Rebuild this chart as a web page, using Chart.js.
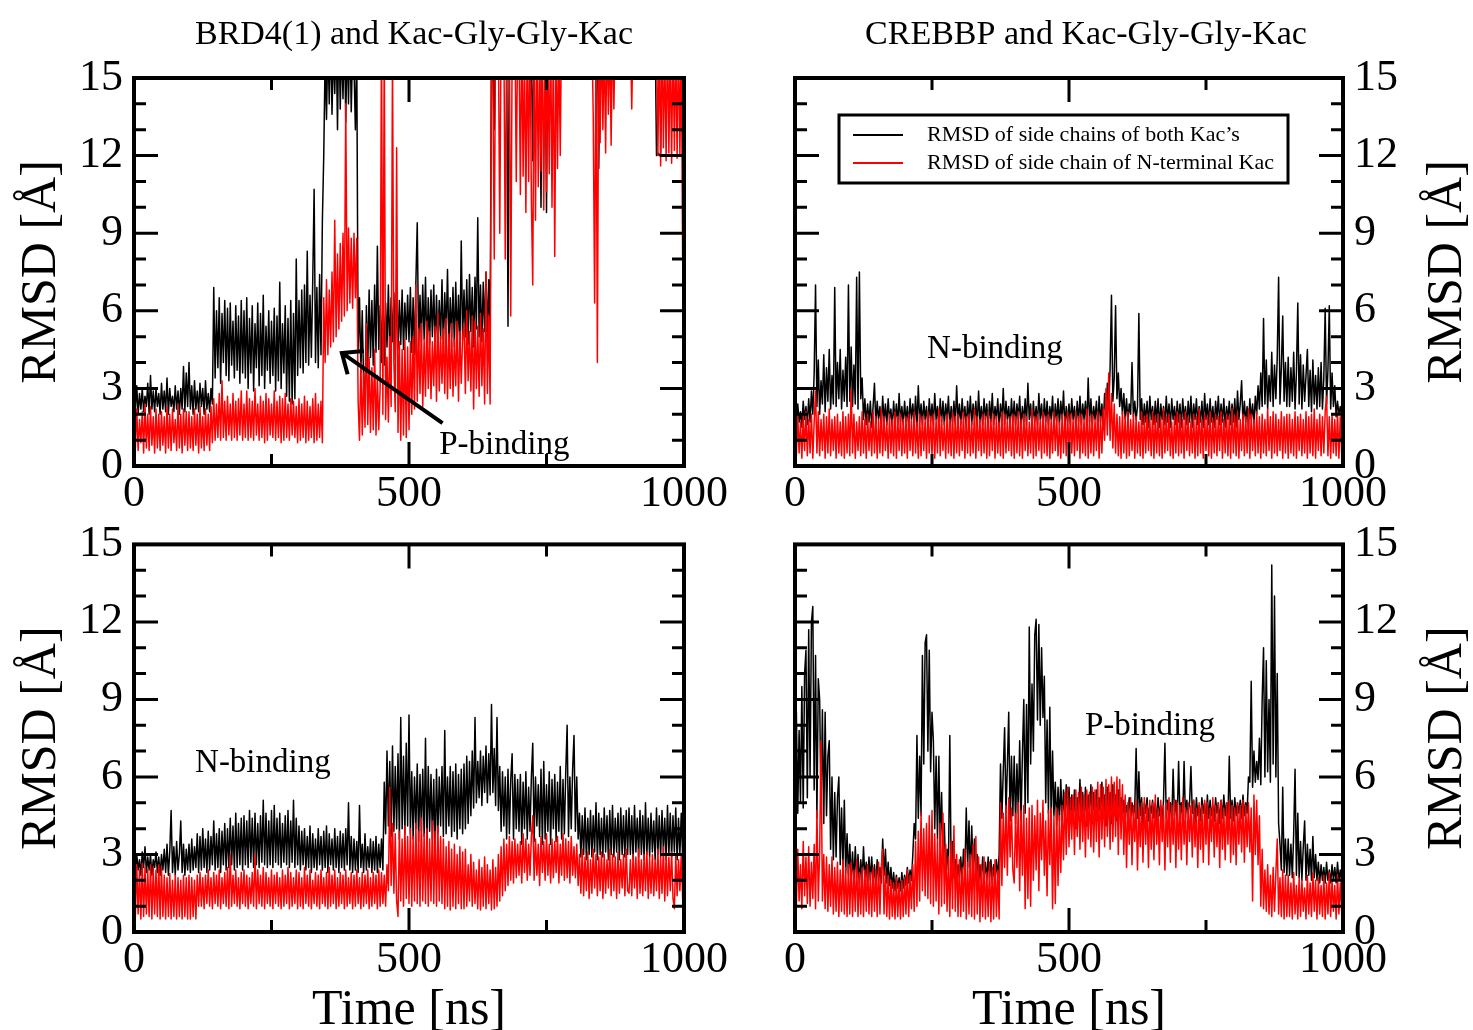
<!DOCTYPE html>
<html>
<head>
<meta charset="utf-8">
<script src="https://cdn.jsdelivr.net/npm/chart.js@4.4.1/dist/chart.umd.min.js"></script>
<style>
  html, body { margin: 0; padding: 0; background: #fff; width: 1473px; height: 1030px; overflow: hidden; }
  canvas { position: absolute; }
</style>
</head>
<body>
<canvas id="tl" width="828" height="515" style="left:0;top:0"></canvas>
<canvas id="tr" width="772" height="515" style="left:700px;top:0"></canvas>
<canvas id="bl" width="828" height="538" style="left:0;top:507px"></canvas>
<canvas id="br" width="772" height="538" style="left:700px;top:507px"></canvas>
<script>
// time axis: one sample every 2.5 ns, 0..1000 ns
const TIME_NS = Array.from({ length: 401 }, (_, i) => i * 2.5);

const X_MAJOR_TICKS = [0, 500, 1000];
const X_MINOR_TICKS = [250, 750];
const Y_MAJOR_TICKS = [0, 3, 6, 9, 12, 15];
const Y_MINOR_TICKS = [1, 2, 4, 5, 7, 8, 10, 11, 13, 14];

const LABEL_BOTH = "RMSD of side chains of both Kac\u2019s";
const LABEL_NTERM = "RMSD of side chain of N-terminal Kac";

// BRD4(1), P-binding (top left); one row = 100 ns
const brd4P_both = [
  2.9, 2.1, 3.1, 2.0, 2.8, 2.2, 3.0, 2.1, 2.7, 2.3, 3.2, 2.0, 3.5, 2.2, 2.9, 2.1, 3.0, 2.3, 2.8, 2.0,
  3.2, 2.2, 2.9, 2.1, 3.4, 2.0, 3.0, 2.3, 2.7, 2.1, 3.1, 2.2, 2.9, 2.0, 3.0, 2.2, 3.85, 2.1, 3.6, 2.3,
  4.0, 2.2, 3.1, 2.0, 3.3, 2.2, 2.9, 2.1, 3.2, 2.3, 3.0, 2.0, 3.3, 2.2, 2.8, 2.1, 3.0, 2.4, 6.9, 3.4,
  6.0, 3.8, 6.5, 3.2, 5.9, 4.0, 6.4, 3.5, 6.1, 3.3, 6.3, 3.9, 5.6, 3.4, 6.2, 3.7, 5.8, 3.2, 6.4, 3.6,
  6.0, 3.4, 6.5, 3.0, 5.7, 3.6, 6.2, 2.9, 5.5, 3.8, 6.3, 3.1, 5.9, 3.5, 6.6, 3.0, 5.4, 3.7, 6.0, 3.2,
  5.6, 3.5, 6.1, 2.9, 5.8, 3.3, 7.1, 3.0, 5.5, 3.6, 6.2, 2.7, 5.7, 2.5, 6.4, 2.4, 5.9, 2.6, 8.0, 3.5,
  6.4, 3.8, 6.8, 3.6, 7.0, 4.0, 8.3, 3.9, 6.6, 4.2, 7.2, 10.7, 4.0, 6.9, 3.8, 7.4, 4.3, 9.5, 12.0, 15.8,
  13.4, 16.5, 14.0, 17.0, 13.6, 16.2, 14.4, 16.8, 13.0, 17.2, 13.8, 16.4, 14.2, 17.0, 13.3, 16.6, 14.0, 17.1, 13.7, 16.3,
  15.5, 13.0, 16.0, 4.5, 6.5, 3.6, 6.0, 3.2, 2.6, 6.2, 3.8, 6.8, 4.2, 6.4, 3.9, 7.0, 4.4, 8.5, 4.5, 6.2,
  4.0, 6.9, 3.9, 6.3, 4.6, 7.0, 4.3, 6.5, 4.8, 6.7, 4.1, 7.2, 4.5, 6.4, 4.7, 6.8, 4.5, 6.3, 4.9, 6.6,
  4.8, 6.9, 4.4, 6.5, 4.3, 7.1, 9.4, 4.6, 6.6, 4.8, 7.0, 4.9, 7.3, 4.4, 6.5, 4.7, 6.8, 5.0, 7.0, 4.5,
  6.6, 4.7, 6.4, 4.9, 7.2, 4.5, 6.7, 5.1, 7.6, 4.6, 6.5, 5.0, 6.9, 4.6, 7.1, 4.8, 6.6, 4.5, 8.7, 4.9,
  6.8, 5.0, 7.2, 4.7, 7.4, 5.2, 6.9, 4.6, 7.3, 5.3, 9.6, 5.0, 7.0, 4.8, 7.1, 5.2, 7.5, 4.9, 7.2, 5.1,
  16.5, 15.6, 13.0, 16.8, 15.9, 17.0, 15.5, 16.8, 16.0, 17.2, 15.8, 16.6, 5.4, 17.0, 15.8, 17.5, 16.2, 16.9, 15.7, 17.3,
  16.0, 17.2, 15.6, 16.8, 15.9, 17.1, 16.3, 15.8, 16.9, 16.1, 11.8, 16.5, 15.4, 17.0, 16.2, 15.7, 10.0, 16.9, 16.0, 17.3,
  9.8, 17.0, 15.7, 16.8, 16.1, 17.3, 15.9, 16.6, 17.0, 16.2, 16.8, 15.9, 17.1, 16.4, 16.9, 15.8, 17.2, 16.3, 16.7, 17.0,
  16.8, 17.1, 16.0, 17.4, 16.3, 16.9, 15.8, 17.2, 16.4, 16.7, 17.0, 16.1, 16.9, 15.9, 17.3, 16.5, 16.8, 17.1, 11.5, 16.6,
  17.0, 16.1, 16.7, 17.3, 15.9, 16.8, 17.1, 16.2, 16.9, 17.4, 16.6, 17.0, 16.2, 17.3, 16.5, 16.9, 17.2, 16.0, 16.8, 17.1,
  16.6, 17.0, 16.2, 17.3, 16.5, 16.9, 17.2, 16.0, 16.8, 17.1, 16.4, 17.0, 15.8, 16.6, 17.2, 16.3, 16.9, 17.0, 16.4, 16.9,
  12.0, 12.1, 12.0, 12.1, 16.4, 17.0, 15.8, 16.6, 17.2, 16.3, 16.9, 17.0, 16.5, 17.2, 16.1, 16.8, 17.0, 16.4, 16.9, 17.1,
  16.5
];
const brd4P_nterm = [
  1.9, 0.7, 2.2, 0.6, 1.8, 0.9, 2.1, 0.5, 2.4, 0.7, 2.0, 0.6, 2.3, 0.8, 1.9, 0.5, 2.2, 0.7, 2.0, 0.6,
  2.1, 0.8, 1.9, 0.5, 2.3, 0.7, 2.0, 0.6, 2.2, 0.9, 1.8, 0.6, 2.4, 0.7, 2.0, 0.5, 2.2, 0.8, 2.1, 0.6,
  2.1, 0.7, 1.9, 0.6, 2.2, 0.8, 2.0, 0.5, 2.3, 0.7, 1.9, 0.6, 2.2, 0.8, 2.0, 0.6, 2.3, 0.9, 2.6, 1.0,
  2.4, 1.1, 2.8, 1.0, 3.3, 1.1, 2.5, 1.0, 2.7, 1.2, 2.4, 1.0, 2.8, 1.1, 2.5, 1.0, 2.6, 1.2, 2.9, 1.0,
  2.4, 1.1, 2.9, 1.0, 2.6, 1.1, 2.5, 1.0, 3.0, 1.2, 2.4, 1.0, 2.7, 1.1, 2.5, 0.9, 2.8, 1.0, 2.6, 1.2,
  2.4, 1.1, 2.9, 1.0, 2.5, 1.1, 2.7, 0.9, 2.6, 1.0, 2.8, 1.1, 2.4, 1.0, 2.6, 1.2, 2.5, 1.1, 2.3, 0.9,
  2.6, 1.0, 2.4, 1.1, 2.7, 0.9, 2.5, 1.0, 2.3, 1.1, 2.6, 0.9, 2.8, 1.0, 2.4, 1.1, 2.5, 0.9, 6.5, 4.0,
  7.2, 4.3, 6.8, 4.6, 7.5, 4.8, 9.5, 5.0, 8.2, 5.3, 8.6, 5.6, 9.0, 5.8, 14.0, 6.0, 9.2, 6.3, 8.8, 6.1,
  9.0, 6.5, 8.8, 2.5, 1.0, 4.0, 1.2, 3.6, 1.5, 5.5, 1.6, 4.2, 1.3, 3.8, 1.4, 4.5, 1.2, 3.5, 1.4, 3.0,
  17.0, 2.0, 16.5, 1.8, 4.2, 1.7, 5.0, 2.3, 16.0, 4.0, 2.1, 12.3, 1.3, 4.8, 1.0, 4.5, 1.2, 4.9, 1.1, 4.6,
  1.4, 4.8, 2.0, 5.0, 2.2, 7.0, 2.5, 5.3, 2.8, 5.5, 2.3, 4.9, 2.7, 5.6, 3.0, 5.2, 2.6, 4.8, 3.1, 5.4,
  2.5, 5.9, 2.9, 5.0, 3.2, 5.3, 2.8, 5.7, 2.6, 5.1, 3.0, 5.5, 2.7, 4.9, 3.1, 5.6, 2.5, 5.2, 3.2, 5.0,
  5.5, 2.8, 6.0, 3.3, 5.2, 2.9, 5.8, 2.2, 5.6, 3.0, 5.4, 2.7, 5.9, 3.1, 5.3, 2.4, 7.5, 2.8, 5.8, 2.4,
  16.0, 15.0, 8.0, 17.0, 15.8, 16.5, 9.0, 17.0, 16.2, 16.5, 8.0, 17.0, 15.6, 16.8, 5.8, 16.0, 15.5, 17.2, 11.0, 16.4,
  16.5, 10.5, 17.0, 11.2, 16.2, 9.8, 16.8, 11.0, 17.2, 10.3, 7.0, 16.8, 9.5, 17.2, 10.8, 16.0, 11.4, 16.9, 9.9, 17.0,
  10.6, 16.4, 11.3, 17.1, 10.0, 16.6, 8.1, 17.0, 11.5, 16.5, 12.0, 17.5, 16.8, 17.3, 16.5, 17.0, 16.4, 17.2, 16.7, 17.4,
  17.0, 16.4, 17.2, 16.7, 17.4, 16.5, 17.1, 16.6, 17.3, 16.9, 17.0, 16.5, 17.2, 16.8, 13.5, 6.3, 16.9, 4.0, 16.8, 12.5,
  17.0, 13.0, 16.6, 12.1, 17.2, 13.6, 16.8, 12.4, 17.1, 13.8, 16.9, 17.4, 16.6, 17.1, 16.8, 17.3, 16.5, 17.0, 16.7, 17.2,
  16.8, 17.0, 13.8, 17.0, 16.5, 17.3, 16.7, 17.2, 16.4, 17.0, 16.6, 17.3, 16.8, 17.1, 16.5, 17.2, 16.9, 17.0, 16.6, 17.3,
  16.8, 12.0, 16.5, 11.6, 16.8, 12.3, 16.2, 11.8, 16.9, 12.1, 16.4, 11.7, 16.7, 12.2, 16.3, 11.9, 16.8, 12.0, 16.5, 8.1,
  16.0
];

// CREBBP, N-binding (top right)
const crebN_both = [
  2.2, 1.6, 2.4, 1.7, 2.1, 1.5, 2.5, 1.8, 2.3, 1.6, 2.6, 1.7, 2.9, 2.0, 3.6, 7.0, 2.3, 4.1, 2.0, 3.3,
  2.4, 4.3, 2.1, 3.8, 2.5, 4.5, 2.2, 3.5, 2.4, 6.9, 2.3, 4.0, 2.6, 4.5, 2.2, 3.7, 2.5, 4.2, 2.3, 7.0,
  2.5, 4.6, 2.3, 3.9, 2.4, 7.3, 2.2, 7.5, 2.6, 3.4, 1.8, 2.6, 1.6, 2.4, 1.7, 2.5, 1.5, 2.3, 3.2, 1.6,
  2.5, 1.8, 2.3, 1.5, 2.7, 1.7, 2.4, 1.6, 2.6, 1.8, 2.2, 1.5, 2.5, 1.7, 2.4, 1.6, 2.8, 1.7, 2.3, 1.6,
  2.5, 1.7, 2.3, 1.5, 2.6, 1.8, 2.4, 1.6, 2.7, 1.5, 3.1, 1.7, 2.4, 1.6, 2.5, 1.8, 2.3, 1.5, 2.6, 1.7,
  2.4, 1.6, 2.8, 1.8, 2.3, 1.5, 2.6, 1.7, 2.5, 1.6, 2.4, 1.8, 2.7, 1.5, 2.3, 1.7, 2.5, 1.6, 3.1, 1.7,
  2.4, 1.6, 2.6, 1.8, 2.3, 1.5, 2.5, 1.7, 2.7, 1.6, 2.4, 1.8, 2.5, 1.5, 2.9, 1.7, 2.3, 1.6, 2.6, 1.8,
  2.4, 1.5, 2.5, 1.7, 2.8, 1.6, 2.3, 1.8, 2.6, 1.5, 2.4, 1.7, 3.0, 1.6, 2.5, 1.8, 2.3, 1.5, 2.6, 1.7,
  2.5, 1.6, 2.4, 1.8, 2.7, 1.5, 2.3, 1.7, 2.6, 1.6, 3.2, 1.8, 2.4, 1.5, 2.5, 1.7, 2.3, 1.6, 2.8, 1.8,
  2.4, 1.5, 2.6, 1.7, 2.5, 1.6, 2.3, 1.8, 2.7, 1.5, 2.4, 1.7, 2.6, 1.6, 2.5, 1.8, 2.9, 1.5, 2.3, 1.7,
  2.4, 1.6, 2.6, 1.8, 2.3, 1.5, 2.5, 1.7, 2.7, 1.6, 2.4, 1.8, 2.5, 1.5, 3.4, 1.7, 2.6, 1.6, 2.3, 1.8,
  2.5, 1.5, 2.7, 1.7, 2.4, 1.6, 2.8, 2.0, 3.2, 2.2, 3.8, 6.6, 2.5, 3.4, 6.2, 2.6, 3.6, 2.3, 3.0, 2.0,
  2.8, 1.8, 2.6, 1.7, 2.4, 2.0, 4.0, 1.9, 2.5, 1.8, 2.3, 5.9, 1.8, 2.6, 1.6, 2.4, 1.7, 2.5, 1.5, 2.7,
  1.8, 2.3, 1.6, 2.5, 1.7, 2.6, 1.5, 2.4, 1.8, 2.3, 1.6, 2.7, 1.7, 2.4, 1.5, 2.6, 1.8, 2.3, 1.6, 2.5,
  1.7, 2.4, 1.5, 2.6, 1.8, 2.3, 1.6, 2.5, 1.7, 2.7, 1.5, 2.4, 1.8, 2.6, 1.6, 2.3, 1.7, 2.5, 1.5, 2.8,
  1.8, 2.4, 1.6, 2.6, 1.7, 2.3, 1.5, 2.5, 1.8, 2.7, 1.6, 2.4, 1.7, 2.6, 1.5, 2.3, 1.8, 2.5, 1.6, 2.4,
  1.7, 2.6, 1.5, 2.9, 1.8, 2.4, 3.3, 1.6, 2.5, 1.7, 2.3, 1.5, 2.6, 1.8, 2.4, 1.6, 2.7, 2.0, 3.1, 2.2,
  3.6, 2.3, 5.7, 2.4, 4.1, 2.2, 3.5, 2.5, 4.4, 2.3, 3.9, 2.6, 4.2, 7.3, 2.4, 3.8, 5.8, 2.5, 4.0, 2.3,
  4.2, 2.3, 3.8, 2.5, 4.4, 2.2, 3.6, 6.3, 2.4, 4.3, 2.2, 3.9, 2.5, 3.5, 4.5, 2.3, 3.7, 2.1, 4.1, 2.4,
  3.5, 2.2, 3.8, 2.3, 4.0, 2.2, 3.4, 6.1, 2.4, 3.7, 6.2, 2.2, 3.6, 2.3, 3.1, 1.9, 2.5, 2.0, 2.3, 1.9,
  1.8
];
const crebN_nterm = [
  1.8, 0.4, 2.0, 0.5, 1.7, 0.3, 1.9, 0.6, 2.1, 0.4, 1.8, 0.5, 2.0, 0.3, 1.7, 2.9, 0.5, 2.1, 0.4, 1.8,
  0.6, 2.0, 0.3, 1.9, 0.5, 2.2, 0.4, 1.8, 0.6, 1.9, 0.3, 2.0, 0.5, 1.7, 0.4, 2.1, 0.3, 1.9, 0.5, 2.0,
  0.4, 3.0, 0.5, 2.0, 0.3, 1.7, 0.6, 1.9, 0.4, 2.1, 0.5, 1.8, 0.3, 2.0, 0.6, 1.7, 0.4, 2.1, 0.5, 1.9,
  0.3, 1.8, 0.5, 2.2, 0.4, 1.9, 0.6, 1.7, 0.3, 2.0, 0.5, 1.8, 0.4, 2.1, 0.3, 1.9, 0.6, 2.0, 0.4, 1.8,
  0.5, 1.9, 0.3, 2.0, 0.6, 1.8, 0.4, 2.1, 0.5, 1.7, 0.3, 2.0, 0.4, 1.9, 0.6, 1.8, 0.3, 2.1, 0.5, 1.9,
  0.4, 2.0, 0.3, 1.8, 0.5, 2.2, 0.4, 1.9, 0.6, 1.7, 0.3, 2.0, 0.5, 1.8, 0.4, 2.1, 0.3, 1.9, 0.5, 2.0,
  0.4, 1.8, 0.6, 2.1, 0.3, 1.9, 0.5, 2.0, 0.4, 1.7, 0.5, 2.2, 0.3, 1.9, 0.6, 1.8, 0.4, 2.0, 0.5, 1.9,
  0.3, 2.1, 0.4, 1.8, 0.6, 2.0, 0.3, 1.9, 0.5, 1.7, 0.4, 2.1, 0.3, 2.0, 0.5, 1.8, 0.6, 1.9, 0.4, 2.0,
  0.3, 1.9, 0.5, 2.1, 0.4, 1.8, 0.3, 2.0, 0.6, 1.9, 0.4, 1.7, 0.5, 2.2, 0.3, 1.9, 0.4, 2.0, 0.6, 1.8,
  0.3, 2.1, 0.5, 1.9, 0.4, 2.0, 0.3, 1.8, 0.5, 2.1, 0.6, 1.9, 0.4, 1.7, 0.3, 2.0, 0.5, 1.9, 0.4, 2.1,
  0.3, 2.0, 0.5, 1.8, 0.4, 2.1, 0.6, 1.9, 0.3, 2.0, 0.5, 1.8, 0.4, 2.2, 0.3, 1.9, 0.5, 2.0, 0.4, 1.8,
  0.6, 2.1, 0.3, 1.9, 0.5, 2.2, 1.0, 3.0, 1.2, 3.6, 1.0, 2.8, 0.7, 2.4, 0.5, 2.0, 0.4, 1.9, 0.3, 2.1,
  0.5, 1.9, 0.3, 2.1, 0.4, 1.8, 0.6, 2.0, 0.3, 1.9, 0.5, 1.7, 0.4, 2.1, 0.3, 1.9, 0.5, 2.0, 0.6, 1.8,
  0.4, 2.1, 0.3, 1.9, 0.5, 2.0, 0.4, 1.8, 0.3, 2.2, 0.5, 1.9, 0.6, 2.0, 0.4, 1.7, 0.3, 1.9, 0.5, 2.1,
  0.4, 2.0, 0.5, 1.8, 0.3, 2.1, 0.6, 1.9, 0.4, 1.7, 0.5, 2.0, 0.3, 1.9, 0.4, 2.2, 0.5, 1.8, 0.3, 2.0,
  0.6, 1.9, 0.4, 2.1, 0.3, 1.8, 0.5, 2.0, 0.4, 1.9, 0.6, 2.1, 0.3, 1.8, 0.5, 2.0, 0.4, 1.9, 0.3, 2.2,
  0.5, 1.9, 0.4, 2.1, 0.3, 1.8, 0.6, 2.0, 0.4, 1.9, 0.5, 2.2, 0.3, 2.0, 0.6, 1.8, 0.4, 2.1, 0.5, 1.9,
  0.3, 2.0, 0.5, 1.8, 0.4, 2.2, 0.6, 1.9, 0.3, 2.1, 0.5, 2.0, 0.4, 1.8, 0.6, 2.1, 0.3, 1.9, 0.5, 2.0,
  0.3, 2.0, 0.5, 1.8, 0.4, 2.1, 0.3, 1.9, 0.6, 2.0, 0.4, 1.8, 0.5, 2.1, 0.3, 1.9, 0.5, 2.0, 0.4, 2.2,
  0.3, 1.8, 0.6, 2.0, 0.4, 1.9, 0.5, 2.1, 2.7, 0.4, 1.9, 0.3, 2.0, 0.5, 1.8, 0.4, 2.1, 0.3, 1.9, 0.5,
  1.8
];

// BRD4(1), N-binding (bottom left)
const brd4N_both = [
  2.9, 2.3, 3.0, 2.4, 2.8, 2.2, 3.1, 2.5, 3.3, 2.3, 2.9, 2.4, 3.0, 2.2, 2.8, 2.5, 3.1, 2.3, 2.9, 2.2,
  3.0, 2.4, 3.2, 2.3, 3.4, 2.2, 3.1, 4.7, 2.3, 3.3, 2.2, 3.5, 2.4, 3.0, 4.3, 2.3, 3.4, 2.2, 3.2, 2.4,
  3.4, 2.3, 3.6, 2.4, 3.3, 2.5, 3.8, 2.3, 3.7, 2.4, 4.0, 2.5, 3.6, 2.3, 3.9, 2.4, 3.7, 2.6, 4.3, 2.4,
  3.8, 2.5, 4.0, 2.3, 3.9, 2.6, 4.2, 2.4, 4.0, 2.5, 4.4, 2.6, 4.1, 2.4, 4.6, 2.5, 4.2, 2.6, 4.4, 2.4,
  4.5, 2.6, 4.3, 2.5, 4.7, 2.7, 4.4, 2.5, 4.6, 2.6, 4.2, 2.5, 4.5, 2.7, 5.1, 2.6, 4.6, 2.5, 4.3, 2.6,
  4.7, 2.5, 4.9, 2.7, 4.4, 2.6, 4.6, 2.5, 4.2, 2.7, 4.5, 2.6, 4.7, 2.5, 4.3, 2.7, 5.1, 2.5, 4.4, 2.6,
  4.1, 2.4, 3.9, 2.6, 4.0, 2.4, 3.7, 2.5, 4.1, 2.3, 3.8, 2.5, 3.6, 2.4, 4.0, 2.6, 3.7, 2.4, 3.9, 2.5,
  4.1, 2.3, 3.8, 2.6, 3.6, 2.4, 4.0, 2.5, 3.7, 2.3, 3.9, 2.5, 3.8, 2.4, 4.0, 2.6, 5.0, 2.4, 3.7, 2.3,
  3.6, 2.4, 3.5, 2.3, 4.9, 2.5, 3.4, 2.3, 3.8, 2.4, 3.3, 2.5, 3.6, 2.3, 3.5, 2.4, 3.7, 2.3, 3.4, 2.5,
  3.6, 2.4, 5.8, 3.8, 7.0, 4.1, 6.6, 3.7, 7.2, 3.9, 6.4, 4.0, 6.9, 3.6, 8.3, 4.0, 6.8, 3.8, 7.3, 4.1,
  8.4, 3.8, 6.2, 3.6, 6.0, 4.0, 6.5, 3.5, 6.1, 3.9, 6.3, 3.7, 7.5, 3.3, 6.4, 3.9, 6.1, 3.6, 5.9, 3.0,
  6.3, 3.8, 6.0, 4.1, 6.4, 3.7, 7.8, 3.8, 6.0, 4.1, 6.4, 3.7, 6.2, 3.9, 6.5, 3.6, 6.1, 4.0, 6.3, 3.8,
  6.5, 4.0, 6.8, 4.2, 6.6, 4.5, 7.0, 4.8, 8.3, 5.0, 6.6, 5.2, 7.0, 4.9, 6.8, 5.4, 7.2, 5.0, 6.9, 5.3,
  8.8, 5.4, 7.1, 4.9, 8.3, 4.7, 6.4, 3.9, 6.2, 4.1, 6.0, 3.6, 6.3, 3.8, 5.9, 6.9, 3.6, 6.1, 4.0, 5.9,
  3.9, 6.1, 3.4, 5.8, 4.0, 6.2, 3.6, 5.6, 3.9, 6.0, 7.3, 3.5, 6.0, 4.1, 5.7, 3.7, 6.3, 3.4, 6.6, 3.6,
  5.7, 3.9, 6.2, 3.4, 5.9, 4.0, 6.1, 3.5, 5.8, 3.9, 6.4, 3.6, 5.9, 3.8, 6.2, 8.0, 3.7, 6.0, 4.0, 6.3,
  7.6, 3.9, 6.0, 3.6, 4.6, 2.9, 4.5, 3.0, 4.8, 2.8, 4.4, 3.0, 4.7, 2.9, 4.5, 3.1, 5.0, 2.8, 4.6, 3.0,
  4.4, 2.9, 4.8, 3.1, 4.5, 2.8, 4.7, 3.0, 4.9, 2.9, 4.4, 3.1, 4.6, 2.8, 4.8, 3.0, 4.5, 2.9, 4.7, 3.0,
  4.8, 3.0, 4.5, 2.8, 4.9, 3.1, 4.4, 2.9, 4.7, 3.0, 4.5, 2.8, 5.0, 3.0, 4.4, 2.9, 4.6, 3.1, 4.3, 2.8,
  4.8, 3.0, 4.5, 2.9, 4.7, 3.1, 4.4, 2.8, 4.9, 3.0, 4.6, 2.9, 4.5, 3.1, 4.8, 2.8, 4.4, 3.0, 4.6, 2.9,
  3.4
];
const brd4N_nterm = [
  2.5, 0.6, 2.6, 0.7, 2.4, 0.5, 2.65, 0.6, 2.5, 0.7, 2.4, 0.6, 2.6, 0.5, 2.5, 0.7, 2.4, 0.6, 2.6, 0.5,
  2.5, 0.6, 2.2, 0.5, 2.1, 0.6, 2.26, 0.5, 2.0, 0.6, 2.2, 0.5, 2.1, 0.6, 2.0, 0.5, 2.2, 0.6, 2.1, 0.5,
  2.2, 0.5, 2.1, 0.6, 2.0, 0.5, 2.2, 1.0, 2.3, 1.0, 2.1, 0.9, 2.2, 1.1, 2.4, 1.0, 2.1, 0.9, 2.3, 1.1,
  2.2, 1.0, 2.4, 0.9, 2.1, 1.1, 2.3, 1.0, 2.5, 0.9, 3.0, 1.0, 2.2, 1.1, 2.4, 1.0, 2.1, 0.9, 2.3, 1.1,
  2.4, 1.0, 2.2, 0.9, 2.1, 1.1, 2.3, 1.0, 3.0, 0.9, 2.4, 1.1, 2.2, 1.0, 2.5, 0.9, 2.3, 1.1, 2.1, 1.0,
  2.4, 0.9, 2.2, 1.1, 2.3, 1.0, 2.1, 0.9, 2.4, 1.0, 2.2, 1.1, 2.5, 0.9, 2.3, 1.0, 2.1, 1.1, 2.4, 0.9,
  2.3, 1.0, 2.1, 0.9, 2.5, 1.1, 2.2, 1.0, 2.4, 0.9, 2.0, 1.1, 2.3, 1.0, 2.2, 0.9, 2.4, 1.1, 2.1, 1.0,
  2.3, 0.9, 2.5, 1.0, 2.2, 1.1, 2.4, 0.9, 2.1, 1.0, 2.3, 1.1, 2.2, 0.9, 2.4, 1.0, 2.1, 1.1, 2.3, 0.9,
  2.2, 1.0, 2.4, 1.1, 2.1, 0.9, 2.3, 1.0, 2.2, 1.1, 2.4, 0.9, 2.1, 1.0, 2.3, 1.1, 2.2, 0.9, 2.4, 1.0,
  2.3, 1.1, 2.2, 1.0, 2.6, 1.6, 5.6, 1.8, 4.2, 1.5, 3.8, 1.2, 0.6, 3.9, 1.2, 3.6, 1.0, 4.1, 1.3, 3.7,
  1.1, 4.0, 1.0, 3.7, 1.2, 4.2, 1.1, 3.9, 1.0, 4.4, 1.2, 3.8, 1.1, 4.0, 1.0, 3.6, 1.2, 4.3, 1.1, 3.9,
  1.0, 4.1, 1.2, 3.7, 1.1, 3.6, 0.9, 3.3, 1.0, 3.5, 0.85, 3.2, 1.0, 3.4, 0.9, 3.0, 1.1, 3.3, 0.9, 3.1,
  0.9, 3.2, 1.0, 2.6, 1.2, 3.0, 1.0, 2.7, 1.1, 2.4, 0.9, 2.8, 0.85, 2.5, 1.0, 2.9, 0.9, 2.6, 1.1, 2.4,
  0.85, 2.8, 0.9, 2.5, 1.0, 3.0, 1.2, 3.3, 1.4, 3.6, 1.6, 3.4, 1.8, 3.7, 2.0, 3.5, 1.9, 3.6, 2.1, 3.4,
  2.2, 3.5, 1.9, 3.8, 2.3, 3.6, 2.0, 3.4, 2.2, 3.7, 4.5, 2.0, 3.6, 2.2, 3.4, 1.8, 3.7, 2.3, 3.5, 2.0,
  3.8, 2.2, 3.4, 1.9, 3.6, 2.1, 3.5, 2.3, 3.7, 1.9, 3.4, 2.2, 3.8, 2.0, 3.6, 2.1, 3.5, 1.9, 3.7, 2.2,
  3.3, 2.1, 3.4, 1.8, 3.0, 1.5, 3.2, 1.4, 2.9, 1.6, 3.1, 1.3, 2.8, 1.5, 3.2, 1.7, 3.0, 1.4, 2.9, 1.6,
  3.1, 1.3, 3.0, 1.5, 2.8, 1.7, 3.2, 1.4, 3.0, 1.6, 2.9, 1.3, 3.1, 1.5, 2.8, 1.7, 3.0, 1.4, 3.2, 1.6,
  1.5, 2.8, 1.4, 3.0, 1.7, 2.9, 1.3, 3.2, 1.5, 2.8, 1.4, 3.0, 1.6, 3.1, 1.3, 2.9, 1.5, 3.0, 1.4, 2.8,
  1.6, 3.2, 1.3, 2.9, 1.5, 3.3, 1.2, 3.0, 1.4, 2.9, 1.6, 3.1, 1.3, 0.9, 3.0, 1.4, 2.8, 1.6, 3.0, 1.3,
  1.5
];

// CREBBP, P-binding (bottom right)
const crebP_both = [
  6.0, 8.5, 4.6, 7.8, 5.0, 9.5, 4.8, 10.0, 10.9, 5.2, 11.7, 6.0, 12.0, 12.6, 5.5, 10.7, 4.4, 9.8, 9.0, 4.8,
  8.6, 4.2, 8.5, 4.5, 6.8, 7.4, 3.2, 6.0, 2.8, 5.4, 2.9, 5.2, 6.0, 2.6, 4.8, 2.5, 5.1, 2.3, 3.8, 2.2,
  3.4, 2.0, 3.1, 1.9, 3.3, 2.1, 3.0, 1.8, 2.8, 2.0, 3.3, 2.1, 2.7, 1.8, 2.9, 2.0, 2.9, 1.9, 2.6, 1.8,
  2.8, 2.0, 2.5, 1.9, 3.6, 2.2, 3.2, 1.9, 2.7, 1.8, 2.5, 1.7, 2.3, 1.6, 2.2, 1.7, 2.1, 1.6, 2.3, 1.7,
  2.2, 1.8, 2.5, 1.9, 2.4, 2.0, 3.0, 4.2, 3.6, 7.6, 4.4, 6.8, 4.5, 10.7, 6.5, 11.2, 11.5, 7.0, 10.9, 6.2,
  8.5, 7.4, 4.0, 6.8, 3.6, 6.8, 3.3, 5.4, 3.0, 4.2, 2.2, 3.2, 2.4, 7.6, 2.3, 3.5, 2.1, 2.8, 2.0, 2.6,
  2.1, 2.9, 2.0, 3.2, 2.3, 4.8, 2.5, 4.3, 2.2, 4.1, 2.4, 3.6, 2.2, 3.0, 1.9, 2.6, 2.0, 2.9, 2.1, 2.7,
  2.0, 2.9, 2.1, 2.8, 1.9, 2.6, 2.0, 2.8, 2.1, 3.0, 6.5, 4.4, 6.2, 7.9, 4.6, 6.4, 8.5, 4.3, 6.8, 4.5,
  6.8, 4.2, 6.5, 4.6, 7.4, 4.3, 6.9, 9.0, 4.6, 8.8, 5.0, 11.8, 6.5, 9.6, 7.0, 11.5, 12.1, 8.2, 11.9, 8.0,
  11.0, 8.3, 9.9, 5.0, 8.2, 4.6, 8.7, 4.3, 7.0, 4.5, 5.8, 4.1, 5.6, 4.3, 5.9, 4.2, 5.5, 4.4, 5.7, 4.5,
  5.6, 4.2, 5.3, 4.5, 5.5, 4.0, 5.2, 4.6, 5.9, 4.3, 5.4, 4.4, 5.6, 4.1, 5.3, 4.7, 5.7, 4.2, 5.4, 4.5,
  5.5, 4.3, 5.2, 4.6, 5.8, 4.4, 5.3, 4.1, 5.6, 4.7, 5.4, 4.2, 5.7, 4.5, 5.3, 4.3, 5.5, 4.6, 5.2, 4.4,
  5.1, 4.3, 4.9, 4.6, 5.2, 4.4, 5.0, 4.5, 4.8, 7.1, 4.4, 6.2, 4.5, 5.2, 4.1, 5.0, 4.6, 5.2, 4.3, 4.9,
  4.6, 5.1, 4.4, 5.0, 4.2, 5.2, 4.5, 4.9, 4.3, 5.1, 7.3, 4.4, 5.1, 4.6, 5.0, 4.2, 6.3, 4.5, 5.1, 4.3,
  6.6, 4.5, 5.0, 4.3, 6.6, 4.4, 5.1, 4.6, 5.0, 6.4, 4.6, 5.1, 4.2, 5.2, 4.5, 4.9, 4.3, 5.2, 4.6, 5.0,
  4.1, 5.3, 4.4, 5.1, 4.5, 4.9, 4.3, 5.2, 4.6, 5.0, 4.2, 5.1, 4.4, 5.3, 4.5, 5.0, 4.3, 6.8, 4.4, 5.1,
  4.3, 5.2, 4.5, 5.0, 4.6, 5.1, 4.4, 5.3, 4.5, 5.0, 4.6, 6.0, 5.8, 9.7, 5.6, 7.0, 5.8, 6.6, 5.9, 7.5,
  5.7, 9.0, 11.0, 6.0, 10.5, 6.2, 9.0, 5.8, 14.2, 6.5, 13.0, 6.0, 10.0, 4.2, 3.4, 2.4, 5.6, 2.3, 3.6, 2.2,
  3.6, 2.2, 3.4, 2.1, 3.8, 6.3, 2.2, 4.6, 2.1, 3.5, 2.0, 3.3, 4.3, 2.0, 3.4, 2.2, 3.2, 2.0, 3.7, 2.1,
  3.0, 2.0, 2.7, 1.9, 2.6, 2.0, 2.5, 1.9, 2.7, 2.0, 2.4, 1.9, 2.6, 2.0, 2.5, 1.9, 2.7, 2.0, 2.4, 1.9,
  2.1
];
const crebP_nterm = [
  2.8, 1.0, 3.2, 1.2, 2.6, 0.9, 3.5, 1.4, 2.9, 1.1, 3.3, 1.0, 2.7, 1.3, 3.4, 0.9, 4.7, 1.2, 3.1, 7.4,
  1.2, 3.0, 0.9, 2.9, 0.8, 2.6, 1.0, 2.9, 0.7, 2.5, 0.8, 2.7, 0.6, 2.4, 0.8, 2.8, 0.7, 2.5, 0.6, 2.6,
  0.7, 2.7, 0.6, 2.4, 0.8, 2.8, 0.6, 2.3, 0.7, 2.5, 0.6, 2.4, 0.8, 2.6, 0.7, 2.3, 0.6, 2.5, 0.8, 2.4,
  0.6, 2.7, 0.7, 2.5, 3.2, 0.7, 2.4, 0.6, 2.2, 0.5, 2.0, 0.6, 1.9, 0.5, 2.1, 0.6, 1.9, 0.5, 2.0, 0.6,
  2.1, 0.7, 2.4, 0.6, 2.2, 0.9, 2.6, 0.8, 3.5, 1.0, 3.9, 1.2, 4.6, 1.6, 4.0, 1.4, 4.2, 1.3, 4.5, 1.1,
  4.7, 1.0, 3.8, 1.2, 3.6, 0.7, 4.2, 1.0, 4.6, 1.1, 3.4, 0.8, 2.9, 0.6, 3.5, 0.9, 4.1, 0.8, 3.0, 0.6,
  2.8, 0.6, 2.5, 0.8, 3.2, 0.5, 2.7, 0.7, 3.0, 0.6, 3.4, 0.5, 3.7, 0.7, 2.9, 0.4, 2.6, 0.6, 2.9, 0.5,
  2.3, 0.6, 2.7, 0.4, 2.5, 0.5, 2.8, 0.6, 2.4, 0.5, 5.0, 1.8, 4.6, 2.5, 4.9, 2.2, 5.2, 2.9, 4.8, 2.4,
  1.9, 4.6, 2.5, 5.0, 1.6, 4.7, 2.2, 4.9, 0.9, 4.4, 1.3, 4.8, 1.0, 4.9, 2.0, 4.5, 2.4, 5.1, 1.6, 4.6,
  2.8, 5.1, 2.2, 4.3, 1.4, 4.7, 2.6, 4.8, 0.9, 4.5, 1.1, 4.8, 1.8, 4.5, 2.3, 4.9, 2.8, 5.4, 3.0, 5.6,
  3.3, 5.2, 3.6, 5.3, 3.0, 5.5, 3.7, 5.4, 3.2, 5.6, 3.5, 5.3, 2.9, 5.5, 3.6, 5.4, 3.3, 5.6, 3.1, 5.5,
  3.5, 5.8, 2.9, 5.7, 3.6, 5.6, 3.3, 5.9, 3.7, 5.7, 3.2, 6.0, 3.5, 5.8, 3.7, 6.0, 3.0, 5.9, 3.6, 5.7,
  3.0, 5.3, 2.5, 5.0, 3.4, 5.2, 2.6, 4.9, 3.5, 5.1, 2.4, 4.8, 3.3, 5.0, 2.7, 5.2, 3.4, 4.9, 2.5, 5.1,
  3.2, 5.0, 2.8, 5.3, 3.4, 4.8, 2.6, 5.1, 3.5, 4.9, 2.4, 5.0, 3.3, 5.2, 2.7, 4.9, 3.4, 5.1, 2.5, 5.0,
  3.2, 4.9, 2.8, 5.2, 3.4, 4.8, 2.6, 5.0, 3.5, 4.9, 2.9, 5.1, 3.3, 4.8, 2.5, 5.0, 3.2, 4.9, 2.7, 5.1,
  3.4, 5.0, 2.6, 4.8, 3.5, 5.2, 2.9, 4.9, 3.3, 5.0, 2.5, 5.1, 3.2, 4.8, 2.8, 5.0, 3.4, 5.1, 2.7, 4.9,
  3.0, 4.8, 2.6, 5.0, 3.4, 4.9, 3.1, 5.1, 2.7, 4.9, 3.3, 5.0, 3.1, 4.8, 1.2, 5.3, 3.0, 5.1, 2.6, 4.5,
  1.0, 3.2, 0.9, 2.4, 0.8, 2.6, 0.7, 2.2, 0.6, 2.5, 0.8, 2.3, 3.6, 0.7, 2.1, 0.6, 2.4, 0.5, 2.2, 0.6,
  2.2, 0.6, 1.9, 0.5, 2.3, 0.7, 1.8, 0.5, 2.1, 0.6, 2.0, 0.8, 1.7, 0.5, 2.2, 0.7, 1.9, 0.6, 2.3, 0.8,
  2.0, 0.5, 2.1, 0.7, 1.8, 0.6, 2.2, 0.5, 1.9, 0.7, 2.3, 0.6, 2.0, 0.8, 1.8, 0.5, 2.2, 0.7, 1.9, 0.8,
  2.0
];

const FONT = '"Liberation Serif", "Times New Roman", Times, serif';

function toPoints(values) {
  if (values.length !== TIME_NS.length) console.error('series length', values.length);
  return values.map((v, i) => ({ x: TIME_NS[i], y: v }));
}

// frame, inward ticks, notes, arrow, legend, right-hand axis title
const panelDeco = {
  id: 'panelDeco',
  afterDraw(chart, args, o) {
    const { ctx, chartArea: a } = chart;
    const xs = chart.scales.x, ys = chart.scales.y;
    ctx.save();
    ctx.strokeStyle = '#000';
    ctx.fillStyle = '#000';

    ctx.lineWidth = 3;
    ctx.beginPath();
    const xTick = (v, len) => {
      const px = xs.getPixelForValue(v);
      ctx.moveTo(px, a.bottom); ctx.lineTo(px, a.bottom - len);
      ctx.moveTo(px, a.top); ctx.lineTo(px, a.top + len);
    };
    const yTick = (v, len) => {
      const py = ys.getPixelForValue(v);
      ctx.moveTo(a.left, py); ctx.lineTo(a.left + len, py);
      ctx.moveTo(a.right, py); ctx.lineTo(a.right - len, py);
    };
    X_MAJOR_TICKS.forEach(v => xTick(v, 24));
    X_MINOR_TICKS.forEach(v => xTick(v, 12));
    Y_MAJOR_TICKS.forEach(v => yTick(v, 24));
    Y_MINOR_TICKS.forEach(v => yTick(v, 12));
    ctx.stroke();

    ctx.lineWidth = 4;
    ctx.strokeRect(a.left, a.top, a.right - a.left, a.bottom - a.top);

    ctx.font = '33px ' + FONT;
    ctx.textAlign = 'left';
    ctx.textBaseline = 'middle';
    (o.notes || []).forEach(n => {
      ctx.fillText(n.text, xs.getPixelForValue(n.x), ys.getPixelForValue(n.y));
    });

    if (o.arrow) {
      const x0 = xs.getPixelForValue(o.arrow.from[0]), y0 = ys.getPixelForValue(o.arrow.from[1]);
      const x1 = xs.getPixelForValue(o.arrow.to[0]), y1 = ys.getPixelForValue(o.arrow.to[1]);
      const ang = Math.atan2(y0 - y1, x0 - x1);
      const head = 22, spread = 0.7;
      ctx.lineWidth = 4;
      ctx.beginPath();
      ctx.moveTo(x0, y0); ctx.lineTo(x1, y1);
      ctx.moveTo(x1 + head * Math.cos(ang - spread), y1 + head * Math.sin(ang - spread));
      ctx.lineTo(x1, y1);
      ctx.lineTo(x1 + head * Math.cos(ang + spread), y1 + head * Math.sin(ang + spread));
      ctx.stroke();
    }

    if (o.legend) {
      const bx = a.left + 44, by = a.top + 37, bw = 449, bh = 68;
      ctx.lineWidth = 3;
      ctx.strokeRect(bx, by, bw, bh);
      ctx.font = '22px ' + FONT;
      chart.data.datasets.forEach((ds, k) => {
        const ly = by + 20 + k * 28;
        ctx.strokeStyle = ds.borderColor;
        ctx.lineWidth = 2;
        ctx.beginPath();
        ctx.moveTo(bx + 14, ly); ctx.lineTo(bx + 64, ly);
        ctx.stroke();
        ctx.fillText(ds.label, bx + 88, ly);
      });
    }

    if (o.rightTitle) {
      ctx.font = '50px ' + FONT;
      ctx.textAlign = 'center';
      ctx.translate(a.right + 105, (a.top + a.bottom) / 2);
      ctx.rotate(-Math.PI / 2);
      ctx.fillText(o.rightTitle, 0, 0);
    }
    ctx.restore();
  }
};

function makePanel(id, p) {
  const labelSide = p.side;
  const tickFont = { family: FONT, size: 44 };
  new Chart(document.getElementById(id), {
    type: 'line',
    data: {
      datasets: [
        { label: LABEL_BOTH, data: toPoints(p.both), borderColor: '#000000', order: 1 },
        { label: LABEL_NTERM, data: toPoints(p.nterm), borderColor: '#ff0000', order: 0 }
      ]
    },
    options: {
      responsive: false,
      animation: false,
      events: [],
      datasets: {
        line: { borderWidth: 1.5, borderJoinStyle: 'round', pointRadius: 0, tension: 0, yAxisID: 'y' }
      },
      layout: { padding: 0 },
      scales: {
        x: {
          type: 'linear', position: 'bottom', min: 0, max: 1000,
          afterFit: s => { s.height = p.xH; },
          grid: { display: false, drawTicks: false },
          border: { display: false },
          ticks: {
            stepSize: 500, padding: 2, maxRotation: 0, autoSkip: false, color: '#000', font: tickFont,
            callback: v => String(v)
          },
          title: {
            display: !!p.xTitle, text: 'Time [ns]', color: '#000',
            font: { family: FONT, size: 50 }, padding: { top: 0, bottom: 4 }
          }
        },
        y: {
          type: 'linear', position: labelSide, min: 0, max: 15,
          afterFit: s => { s.width = labelSide === 'left' ? p.leftW : p.rightW; },
          grid: { display: false, drawTicks: false },
          border: { display: false },
          ticks: { stepSize: 3, padding: 11, color: '#000', font: tickFont },
          title: {
            display: labelSide === 'left', text: 'RMSD [\u00c5]', color: '#000',
            font: { family: FONT, size: 50 }, padding: { top: 12, bottom: 0 }
          }
        },
        pad: {
          type: 'linear', position: labelSide === 'left' ? 'right' : 'left', min: 0, max: 15,
          afterFit: s => { s.width = labelSide === 'left' ? p.rightW : p.leftW; },
          grid: { display: false, drawTicks: false },
          border: { display: false },
          ticks: { display: false }
        }
      },
      plugins: {
        legend: { display: false },
        tooltip: { enabled: false },
        title: {
          display: !!p.title, text: p.title || '', color: '#000',
          font: { family: FONT, size: 34, weight: 'normal', lineHeight: 1.2 },
          padding: { top: 14.6, bottom: 22.6 }
        },
        panelDeco: {
          notes: p.notes, arrow: p.arrow, legend: p.legend,
          rightTitle: labelSide === 'right' ? 'RMSD [\u00c5]' : null
        }
      }
    },
    plugins: [panelDeco]
  });
}

makePanel('tl', {
  title: 'BRD4(1) and Kac-Gly-Gly-Kac', side: 'left', leftW: 134, rightW: 144, xH: 49,
  both: brd4P_both, nterm: brd4P_nterm,
  notes: [{ x: 555, y: 0.8, text: 'P-binding' }],
  arrow: { from: [561, 1.66], to: [378, 4.37] }
});
makePanel('tr', {
  title: 'CREBBP and Kac-Gly-Gly-Kac', side: 'right', leftW: 95, rightW: 129, xH: 49,
  both: crebN_both, nterm: crebN_nterm, legend: true,
  notes: [{ x: 241, y: 4.52, text: 'N-binding' }]
});
makePanel('bl', {
  side: 'left', leftW: 134, rightW: 144, xH: 113, xTitle: true,
  both: brd4N_both, nterm: brd4N_nterm,
  notes: [{ x: 111, y: 6.53, text: 'N-binding' }]
});
makePanel('br', {
  side: 'right', leftW: 95, rightW: 129, xH: 113, xTitle: true,
  both: crebP_both, nterm: crebP_nterm,
  notes: [{ x: 529, y: 7.96, text: 'P-binding' }]
});
</script>
</body>
</html>
